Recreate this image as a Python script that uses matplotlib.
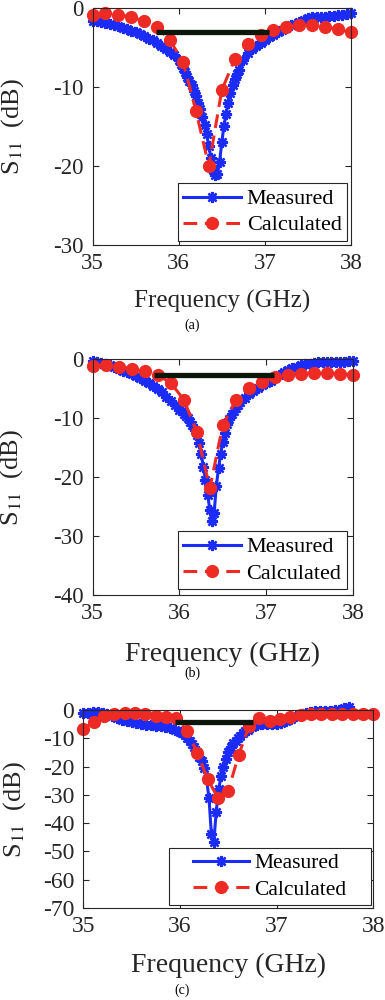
import numpy as np
import matplotlib
matplotlib.use('Agg')
import matplotlib.pyplot as plt
from matplotlib.patches import Rectangle

plt.rcParams['font.family'] = ['Liberation Serif', 'DejaVu Serif']
plt.rcParams['mathtext.fontset'] = 'stix'
plt.rcParams['axes.linewidth'] = 0.8
plt.rcParams['axes.unicode_minus'] = False

# measured frequency grid (GHz), denser around the resonance
f_meas = [35.00, 35.05, 35.10, 35.15, 35.20, 35.25, 35.30, 35.35, 35.40, 35.45,
          35.50, 35.55, 35.60, 35.65, 35.70, 35.75, 35.80, 35.85, 35.90, 35.95,
          36.00, 36.025, 36.05, 36.075, 36.10, 36.125, 36.15, 36.175, 36.20, 36.225,
          36.25, 36.275, 36.30, 36.325, 36.35, 36.375, 36.40, 36.425, 36.45, 36.475,
          36.50, 36.525, 36.55, 36.575, 36.60, 36.625, 36.65, 36.675, 36.70, 36.75,
          36.80, 36.85, 36.90, 36.95, 37.00, 37.05, 37.10, 37.15, 37.20, 37.25,
          37.30, 37.35, 37.40, 37.45, 37.50, 37.55, 37.60, 37.65, 37.70, 37.75,
          37.80, 37.85, 37.90, 37.95, 38.00]

meas_a = [-1.6, -1.7, -1.8, -1.9, -2.0, -2.1, -2.3, -2.5, -2.7, -2.9,
          -3.1, -3.3, -3.6, -3.9, -4.1, -4.4, -4.8, -5.2, -5.6, -6.0,
          -6.6, -7.1, -7.6, -8.1, -8.7, -9.2, -9.8, -10.5, -11.2, -12.0,
          -12.8, -13.8, -14.8, -16.0, -17.5, -19.0, -20.5, -21.2, -21.0, -19.5,
          -17.0, -15.0, -13.4, -12.0, -10.8, -9.8, -9.0, -8.4, -7.8, -6.6,
          -5.7, -5.2, -4.8, -4.4, -4.0, -3.7, -3.4, -3.1, -2.8, -2.5,
          -2.2, -2.0, -1.8, -1.5, -1.3, -1.2, -1.2, -1.1, -1.1, -1.0,
          -1.0, -0.9, -0.9, -0.8, -0.6]

meas_b = [-0.2, -0.4, -0.6, -0.8, -1.0, -1.3, -1.6, -1.9, -2.2, -2.5,
          -2.8, -3.2, -3.6, -4.0, -4.5, -5.0, -5.6, -6.3, -7.0, -7.7,
          -8.5, -8.8, -9.2, -9.6, -10.0, -10.6, -11.2, -12.0, -12.8, -14.2,
          -16.0, -18.2, -20.5, -23.0, -25.5, -27.5, -26.0, -21.5, -18.5, -16.0,
          -14.0, -12.4, -11.0, -10.1, -9.3, -8.7, -8.2, -7.7, -7.3, -6.5,
          -5.9, -5.3, -4.8, -4.4, -4.0, -3.6, -3.2, -2.7, -2.2, -1.8,
          -1.5, -1.2, -1.0, -0.8, -0.7, -0.6, -0.5, -0.5, -0.4, -0.4,
          -0.4, -0.4, -0.4, -0.3, -0.3]

# panel (c) measurement stops near 37.75 GHz
meas_c = [-1.0, -0.9, -0.8, -0.8, -1.0, -1.4, -2.0, -2.8, -3.5, -4.0,
          -4.4, -4.7, -5.0, -5.2, -5.4, -5.6, -5.8, -6.0, -6.4, -7.0,
          -7.8, -8.3, -9.0, -9.8, -10.8, -12.0, -13.2, -14.8, -16.5, -18.0,
          -20.5, -24.5, -31.0, -44.0, -46.5, -36.0, -28.0, -23.5, -20.0, -17.2,
          -15.0, -13.2, -11.8, -10.8, -10.0, -9.1, -8.3, -7.6, -7.0, -6.0,
          -5.4, -5.1, -5.0, -5.0, -4.9, -4.6, -4.0, -3.2, -2.2, -1.4,
          -0.9, -0.6, -0.5, -0.4, -0.3, -0.2, -0.1, 0.1, 0.6, 1.2]

f_calc_ab = [35.00, 35.15, 35.30, 35.45, 35.60, 35.75, 35.90, 36.05, 36.20, 36.35,
             36.50, 36.65, 36.80, 36.95, 37.10, 37.25, 37.40, 37.55, 37.70, 37.85, 38.00]
calc_a = [-0.85, -0.6, -0.9, -1.1, -1.7, -2.4, -4.1, -6.8, -13.0, -20.0,
          -10.4, -6.5, -4.5, -3.4, -2.8, -2.4, -2.2, -2.2, -2.4, -2.7, -3.1]
calc_b = [-1.1, -0.95, -1.2, -1.6, -2.0, -2.6, -4.0, -6.8, -12.3, -21.9,
          -11.1, -6.9, -4.9, -3.8, -2.9, -2.6, -2.4, -2.3, -2.3, -2.4, -2.55]

f_calc_c = [35.000, 35.107, 35.214, 35.321, 35.429, 35.536, 35.643, 35.750, 35.857, 35.964,
            36.071, 36.179, 36.286, 36.393, 36.500, 36.607, 36.714, 36.821, 36.929, 37.036,
            37.143, 37.250, 37.357, 37.464, 37.571, 37.679, 37.786, 37.893, 38.000]
calc_c = [-6.8, -4.1, -2.1, -1.4, -0.9, -1.2, -1.5, -2.1, -2.6, -2.9,
          -7.3, -15.1, -24.5, -31.0, -28.5, -15.9, -5.7, -2.9, -3.8, -3.3,
          -2.4, -1.8, -1.4, -1.4, -1.4, -1.4, -1.4, -1.4, -1.4]

# bandwidth bars: (start/stop GHz, level dB)
band_a = ([35.74, 37.05], [-3.0, -3.0])
band_b = ([35.71, 37.09], [-2.7, -2.7])
band_c = ([35.95, 36.76], [-4.1, -4.1])

blue = '#1c2cf8'
red = '#ee2a24'
dark = '#262626'

fig = plt.figure(figsize=(3.85, 10), dpi=100)

panels = [
    dict(rect=[0.2403, 0.755, 0.6714, 0.237], fm=f_meas, m=meas_a, fc=f_calc_ab, c=calc_a,
         band=band_a, ylim=(-30, 0), yt=[-30, -20, -10, 0], tick=16.5, xl=18, yl=19,
         leg=(0.985, 0.017), legfs=16, box=None,
         xlab_y=-0.19, ylab_x=-0.3075, cap='(a)', cap_xy=(192, 325)),
    dict(rect=[0.2408, 0.405, 0.676, 0.2355], fm=f_meas, m=meas_b, fc=f_calc_ab, c=calc_b,
         band=band_b, ylim=(-40, 0), yt=[-40, -30, -20, -10, 0], tick=16.5, xl=20, yl=19,
         leg=(0.977, 0.025), legfs=16, box=None,
         xlab_y=-0.20, ylab_x=-0.31, cap='(b)', cap_xy=(192, 673)),
    # (c) legend frame is wider than its content: draw it separately
    dict(rect=[0.2164, 0.092, 0.7532, 0.198], fm=f_meas[:70], m=meas_c, fc=f_calc_c, c=calc_c,
         band=band_c, ylim=(-70, 0), yt=[-70, -60, -50, -40, -30, -20, -10, 0], tick=17, xl=20, yl=19,
         leg=None, legfs=15.5, box=(0.2955, 0.015, 0.6966, 0.288),
         xlab_y=-0.225, ylab_x=-0.236, cap='(c)', cap_xy=(182, 990)),
]

for p in panels:
    ax = fig.add_axes(p['rect'])
    ax.plot(p['fm'], p['m'], '-', color=blue, lw=2.2, marker=(8, 2, 0), ms=8, mew=1.7,
            clip_on=False, label='Measured')
    ax.plot(p['fc'], p['c'], '--', color=red, lw=2.2, dashes=(4.5, 2.5), marker='o', ms=8.5,
            mfc=red, mec=red, clip_on=False, label='Calculated')
    ax.plot(p['band'][0], p['band'][1], '-', color='#0b170b', lw=3.8, solid_capstyle='butt')

    ax.set_xlim(35, 38)
    ax.set_ylim(*p['ylim'])
    ax.set_xticks([35, 36, 37, 38])
    ax.set_yticks(p['yt'])
    ax.tick_params(direction='in', top=True, right=True, length=4.5, width=0.8,
                   labelsize=p['tick'], colors=dark, labelcolor=dark)
    ax.tick_params(axis='x', pad=6)
    ax.tick_params(axis='y', pad=6.5)
    for s in ax.spines.values():
        s.set_color(dark)

    ax.set_xlabel('Frequency (GHz)', fontsize=p['xl'], color=dark)
    ax.xaxis.set_label_coords(0.5, p['xlab_y'])
    ax.set_ylabel('S$_{11}$  (dB)', fontsize=p['yl'], color=dark, va='center')
    ax.yaxis.set_label_coords(p['ylab_x'], 0.5)

    if p['box'] is None:
        leg = ax.legend(loc='lower right', bbox_to_anchor=p['leg'], fontsize=p['legfs'],
                        numpoints=1, fancybox=False, framealpha=1, edgecolor=dark,
                        handlelength=2.6, handletextpad=0.25, borderpad=0.25,
                        labelspacing=0.25, borderaxespad=0.0)
        leg.get_frame().set_linewidth(0.8)
    else:
        bx, by, bw, bh = p['box']
        ax.add_patch(Rectangle((bx, by), bw, bh, transform=ax.transAxes, facecolor='white',
                               edgecolor=dark, lw=0.8, zorder=4))
        leg = ax.legend(loc='center', bbox_to_anchor=(bx + bw / 2, by + bh / 2),
                        fontsize=p['legfs'], numpoints=1, frameon=False,
                        handlelength=2.6, handletextpad=0.25, borderpad=0.2,
                        labelspacing=0.3, borderaxespad=0.0)
        leg.set_zorder(5)

    fig.text(p['cap_xy'][0] / 385, 1 - p['cap_xy'][1] / 1000, p['cap'], fontsize=10,
             ha='center', va='center')

fig.savefig('out.png', dpi=100)
